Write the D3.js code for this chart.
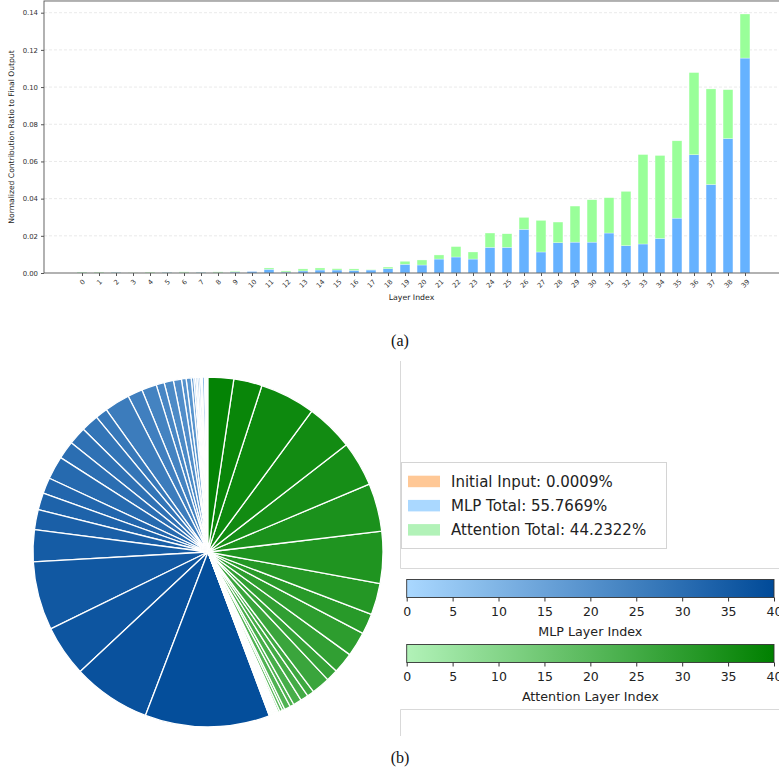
<!DOCTYPE html>
<html>
<head>
<meta charset="utf-8">
<script src="https://cdn.jsdelivr.net/npm/d3@7"></script>
<style>
  html, body { margin: 0; padding: 0; background: #fff; }
  svg { display: block; font-family: "DejaVu Sans", sans-serif; }
</style>
</head>
<body>
<svg id="chart" width="779" height="773"></svg>
<script>
// Per-layer contribution ratios (normalized to the final output)
const layers = d3.range(40);
const mlpValues = [
  0.0002, 0.0001, 0.0004, 0.0000, 0.0001, 0.0004, 0.0002, 0.0004, 0.0002, 0.0005,
  0.0008, 0.0020, 0.0005, 0.0011, 0.0016, 0.0016, 0.0014, 0.0016, 0.0023, 0.0047,
  0.0043, 0.0075, 0.0086, 0.0075, 0.0138, 0.0138, 0.0235, 0.0113, 0.0163, 0.0166,
  0.0166, 0.0215, 0.0147, 0.0156, 0.0186, 0.0295, 0.0636, 0.0476, 0.0723, 0.1156
];
const attnValues = [
  0.0003, 0.0004, 0.0001, 0.0001, 0.0004, 0.0001, 0.0004, 0.0001, 0.0004, 0.0004,
  0.0000, 0.0007, 0.0006, 0.0011, 0.0011, 0.0007, 0.0008, 0.0002, 0.0009, 0.0016,
  0.0027, 0.0022, 0.0056, 0.0038, 0.0077, 0.0073, 0.0064, 0.0170, 0.0111, 0.0194,
  0.0228, 0.0190, 0.0292, 0.0481, 0.0446, 0.0416, 0.0442, 0.0514, 0.0263, 0.0237
];
const initialInput = 0.000009;
const yTicks = [0, 0.02, 0.04, 0.06, 0.08, 0.10, 0.12, 0.14];
const legendLabels = ["Initial Input: 0.0009%", "MLP Total: 55.7669%", "Attention Total: 44.2322%"];
const colorbarTicks = [0, 5, 10, 15, 20, 25, 30, 35, 40];

const svg = d3.select("#chart");

// ---------- (a) stacked bar chart ----------
const x = d3.scaleLinear().domain([0, 39]).range([82, 745]);
const y = d3.scaleLinear().domain([0, 0.14]).range([273, 12.7]);
const plotLeft = 44, plotRight = 790, plotTop = y(0.1463), plotBottom = y(0);
const barW = (x(1) - x(0)) * 0.58;

const gA = svg.append("g");

// horizontal dashed grid
gA.selectAll("line.grid").data(yTicks.slice(1)).join("line")
  .attr("x1", plotLeft).attr("x2", plotRight)
  .attr("y1", d => y(d)).attr("y2", d => y(d))
  .attr("stroke", "#e3e3e3").attr("stroke-width", 0.8)
  .attr("stroke-dasharray", "3,2");

// MLP part (bottom)
gA.selectAll("rect.mlp").data(layers).join("rect")
  .attr("x", i => x(i) - barW / 2)
  .attr("width", barW)
  .attr("y", i => y(mlpValues[i]))
  .attr("height", i => y(0) - y(mlpValues[i]))
  .attr("fill", "#66b2ff")
  .attr("stroke", "#ffffff").attr("stroke-opacity", 0.6).attr("stroke-width", 0.5);

// Attention part (stacked on top)
gA.selectAll("rect.attn").data(layers).join("rect")
  .attr("x", i => x(i) - barW / 2)
  .attr("width", barW)
  .attr("y", i => y(mlpValues[i] + attnValues[i]))
  .attr("height", i => y(mlpValues[i]) - y(mlpValues[i] + attnValues[i]))
  .attr("fill", "#99ff99")
  .attr("stroke", "#ffffff").attr("stroke-opacity", 0.6).attr("stroke-width", 0.5);

// spines
gA.append("rect")
  .attr("x", plotLeft).attr("y", plotTop)
  .attr("width", plotRight - plotLeft).attr("height", plotBottom - plotTop)
  .attr("fill", "none").attr("stroke", "#555").attr("stroke-width", 0.9);

// y axis
const yAxis = d3.axisLeft(y).tickValues(yTicks).tickFormat(d3.format(".2f")).tickSize(3).tickPadding(3);
const yG = gA.append("g").attr("transform", `translate(${plotLeft},0)`).call(yAxis);
yG.select(".domain").remove();
yG.selectAll(".tick line").attr("stroke", "#555");
yG.selectAll(".tick text").attr("font-size", 6.9).attr("fill", "#333")
  .attr("font-family", "DejaVu Sans, sans-serif");

// x axis ticks
const xAxis = d3.axisBottom(x).tickValues(layers).tickFormat(d => d).tickSize(3);
const xG = gA.append("g").attr("transform", `translate(0,${plotBottom})`).call(xAxis);
xG.select(".domain").remove();
xG.selectAll(".tick line").attr("stroke", "#555");
xG.selectAll(".tick text")
  .attr("font-size", 6.7).attr("fill", "#333")
  .attr("font-family", "DejaVu Sans, sans-serif")
  .attr("text-anchor", "middle").attr("dy", null).attr("y", 0)
  .attr("dominant-baseline", "central")
  .each(function () {
    const w = this.getComputedTextLength();
    const cy = 6 + (w + 5) * 0.7071 / 2;
    d3.select(this).attr("transform", `translate(0,${cy}) rotate(-45)`);
  });

// axis titles
gA.append("text")
  .attr("x", (plotLeft + 779) / 2).attr("y", 300)
  .attr("text-anchor", "middle").attr("font-size", 7.8).attr("fill", "#222")
  .text("Layer Index");
gA.append("text")
  .attr("transform", `translate(14,${(plotTop + plotBottom) / 2}) rotate(-90)`)
  .attr("text-anchor", "middle").attr("font-size", 7.6).attr("fill", "#222")
  .text("Normalized Contribution Ratio to Final Output");

// captions
svg.append("text").attr("x", 400).attr("y", 346)
  .attr("text-anchor", "middle").attr("font-family", "Liberation Serif, serif")
  .attr("font-size", 16).attr("fill", "#111").text("(a)");
svg.append("text").attr("x", 400).attr("y", 763)
  .attr("text-anchor", "middle").attr("font-family", "Liberation Serif, serif")
  .attr("font-size", 16).attr("fill", "#111").text("(b)");

// ---------- (b) pie of per-layer contributions ----------
const mlpColor = d3.scaleLinear().domain([0, 40]).range(["#aad8ff", "#004a98"]).interpolate(d3.interpolateRgb);
const attnColor = d3.scaleLinear().domain([0, 40]).range(["#b2f2b8", "#008000"]).interpolate(d3.interpolateRgb);

const pieItems = [{ v: initialInput, c: "#ffc896" }]
  .concat(layers.map(i => ({ v: mlpValues[i], c: mlpColor(i) })))
  .concat(layers.map(i => ({ v: attnValues[i], c: attnColor(i) })));

const pie = d3.pie().sort(null).value(d => d.v).startAngle(0).endAngle(-2 * Math.PI);
const arc = d3.arc().innerRadius(0).outerRadius(175);

svg.append("g").attr("transform", "translate(208,552)")
  .selectAll("path").data(pie(pieItems)).join("path")
  .attr("d", arc)
  .attr("fill", d => d.data.c)
  .attr("stroke", "#ffffff").attr("stroke-width", 1.3).attr("stroke-linejoin", "round");

// faint frames of the side panels
const frame = svg.append("g").attr("stroke", "#d9d9d9").attr("stroke-width", 1).attr("fill", "none");
frame.append("path").attr("d", "M400.5,361 V568.5 H790");
frame.append("path").attr("d", "M400.5,736 V709.5 H790");

// legend
const legend = svg.append("g");
legend.append("rect").attr("x", 401.5).attr("y", 462.5).attr("width", 265).attr("height", 86)
  .attr("fill", "#fff").attr("stroke", "#d4d4d4").attr("stroke-width", 1);
const legendColors = ["#ffc896", "#aad8ff", "#b2f2b8"];
legendLabels.forEach((t, k) => {
  const cy = 481.7 + k * 24.2;
  legend.append("rect").attr("x", 408).attr("y", cy - 6).attr("width", 32).attr("height", 11.5)
    .attr("fill", legendColors[k]);
  legend.append("text").attr("x", 451).attr("y", cy).attr("dominant-baseline", "central")
    .attr("font-size", 15).attr("fill", "#222").text(t);
});

// colorbars
function colorbar(id, color, top, label) {
  const cx = d3.scaleLinear().domain([0, 40]).range([406.7, 774]);
  const grad = svg.append("defs").append("linearGradient").attr("id", id);
  d3.range(0, 41, 4).forEach(v => {
    grad.append("stop").attr("offset", `${v / 40 * 100}%`).attr("stop-color", color(v));
  });
  const g = svg.append("g");
  g.append("rect").attr("x", cx(0)).attr("y", top).attr("width", cx(40) - cx(0)).attr("height", 18)
    .attr("fill", `url(#${id})`).attr("stroke", "#333").attr("stroke-width", 0.9);
  const ax = d3.axisBottom(cx).tickValues(colorbarTicks).tickSize(4).tickPadding(6);
  const axG = g.append("g").attr("transform", `translate(0,${top + 18})`).call(ax);
  axG.select(".domain").remove();
  axG.selectAll(".tick line").attr("stroke", "#333");
  axG.selectAll(".tick text").attr("font-size", 12.5).attr("fill", "#222")
    .attr("font-family", "DejaVu Sans, sans-serif");
  g.append("text").attr("x", (cx(0) + cx(40)) / 2).attr("y", top + 56)
    .attr("text-anchor", "middle").attr("font-size", 12.7).attr("fill", "#222").text(label);
}
colorbar("mlpGrad", mlpColor, 579.5, "MLP Layer Index");
colorbar("attnGrad", attnColor, 644.5, "Attention Layer Index");
</script>
</body>
</html>
